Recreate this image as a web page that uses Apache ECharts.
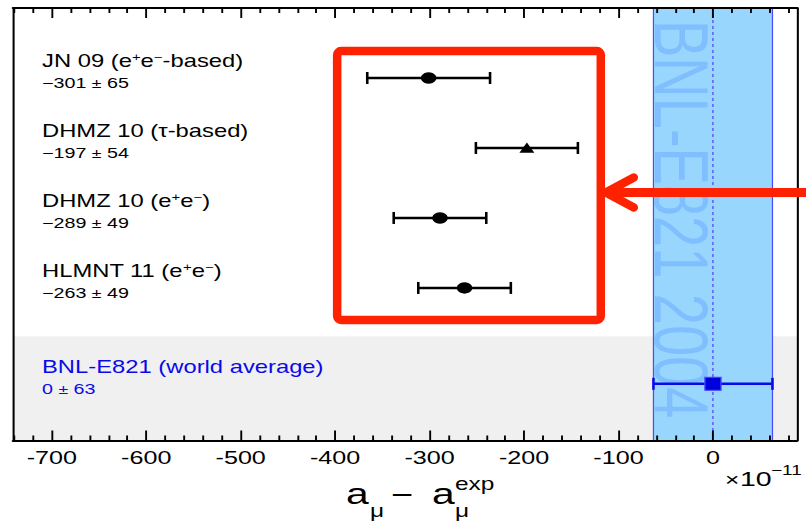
<!DOCTYPE html>
<html>
<head>
<meta charset="utf-8">
<script src="https://cdn.jsdelivr.net/npm/echarts@6/dist/echarts.min.js"></script>
<style>
  html, body { margin: 0; padding: 0; background: #fff; overflow: hidden; }
  #wrap { width: 806px; height: 521px; overflow: hidden; position: relative; }
  /* the figure is laid out narrower and widened, like the original wide-aspect plot */
  #chart { width: 593px; height: 521px; transform-origin: 0 0; transform: scaleX(1.359191); }
</style>
</head>
<body>
<div id="wrap"><div id="chart"></div></div>
<script>
// ---- data ------------------------------------------------------------
const measurementNames = [
  'JN 09 (e{sup|+}e{sup|−}-based)',
  'DHMZ 10 (τ-based)',
  'DHMZ 10 (e{sup|+}e{sup|−})',
  'HLMNT 11 (e{sup|+}e{sup|−})',
  'BNL-E821 (world average)'
];
const centralValues = [-301, -197, -289, -263, 0];
const uncertainties = [65, 54, 49, 49, 63];
const markerKinds = ['circle', 'triangle', 'circle', 'circle', 'square'];
const majorTicks = [-700, -600, -500, -400, -300, -200, -100, 0];
const minorTicks = [-740, -720, -680, -660, -640, -620, -580, -560, -540, -520,
  -480, -460, -440, -420, -380, -360, -340, -320, -280, -260, -240, -220,
  -180, -160, -140, -120, -80, -60, -40, -20, 20, 40, 60, 80];
const bandText = 'BNL-E821 2004';
const experimentValue = 0;
const experimentError = 63;

// ---- layout ----------------------------------------------------------
const STRETCH = 806 / 593;
const X_MIN = -741, X_MAX = 89;
const Y_MIN = 0, Y_MAX = 6.18;
const REF_ROW = 5.37;        // row of the experimental value
const REF_ZONE_TOP = 4.69;   // shaded zone holding the experimental value
const FONT = 'Liberation Sans, Arial, Helvetica, sans-serif';
const BLUE = '#0a0ae8';
const RED = '#ff2200';
// highlight box around the theory predictions, in axis units
const highlight = { x0: -398, x1: -119, y0: 0.614, y1: 4.457, arrowY: 2.636 };

function rowOf(i) { return i < 4 ? i + 1 : REF_ROW; }
function fmt(v) { return v < 0 ? '−' + Math.abs(v) : String(v); }

const seriesData = centralValues.map((v, i) => [v, uncertainties[i], rowOf(i)]);

function renderMeasurement(params, api) {
  const i = params.dataIndex;
  const v = api.value(0), e = api.value(1), row = api.value(2);
  const c = api.coord([v, row]);
  const lo = api.coord([v - e, row]);
  const hi = api.coord([v + e, row]);
  const isRef = i === centralValues.length - 1;
  const color = isRef ? BLUE : '#000';
  const cs = params.coordSys;
  const tx = cs.x + 21.3;
  const children = [
    { type: 'line', shape: { x1: lo[0], y1: c[1], x2: hi[0], y2: c[1] },
      style: { stroke: color, lineWidth: 2.4 } },
    { type: 'line', shape: { x1: lo[0], y1: c[1] - 6, x2: lo[0], y2: c[1] + 6 },
      style: { stroke: color, lineWidth: 1.9 } },
    { type: 'line', shape: { x1: hi[0], y1: c[1] - 6, x2: hi[0], y2: c[1] + 6 },
      style: { stroke: color, lineWidth: 1.9 } }
  ];
  const kind = markerKinds[i];
  if (kind === 'circle') {
    children.push({ type: 'circle', shape: { cx: c[0], cy: c[1], r: 5.7 }, style: { fill: color } });
  } else if (kind === 'triangle') {
    children.push({ type: 'polygon',
      shape: { points: [[c[0], c[1] - 5.5], [c[0] - 5.5, c[1] + 4.8], [c[0] + 5.5, c[1] + 4.8]] },
      style: { fill: color } });
  } else {
    children.push({ type: 'rect', shape: { x: c[0] - 5.9, y: c[1] - 6.5, width: 11.8, height: 13 },
      style: { fill: '#0000dd', stroke: '#4444ff', lineWidth: 1 } });
  }
  children.push({
    type: 'text', x: tx, y: c[1] - 17,
    style: {
      text: measurementNames[i], fill: color, fontSize: 17.5, fontFamily: FONT,
      align: 'left', verticalAlign: 'middle',
      rich: { sup: { fontSize: 11, fontFamily: FONT, fill: color, verticalAlign: 'top', lineHeight: 16 } }
    }
  });
  children.push({
    type: 'text', x: tx, y: c[1] + 5.3,
    style: {
      text: fmt(v) + ' {pm|±} ' + e, fill: color, fontSize: 14.5, fontFamily: FONT,
      align: 'left', verticalAlign: 'middle',
      rich: { pm: { fontSize: 13, fontFamily: FONT, fill: color } }
    }
  });
  return { type: 'group', children };
}

function renderBandText(params, api) {
  const left = api.coord([experimentValue - experimentError, Y_MIN]);
  return {
    type: 'text',
    x: left[0] + 20.6,
    y: left[1] + 12,
    rotation: -Math.PI / 2,
    style: {
      text: bandText, fill: '#80bfff', fontSize: 56, fontFamily: FONT,
      align: 'left', verticalAlign: 'middle'
    }
  };
}

function xAxisDef(position, ticks, len, withLine, withLabels) {
  return {
    type: 'value', position, min: X_MIN, max: X_MAX, z: 10,
    axisLine: { show: withLine, onZero: false, lineStyle: { color: '#000', width: 2 } },
    axisTick: { show: true, inside: true, length: len, customValues: ticks,
      lineStyle: { color: '#000', width: 1.4 } },
    axisLabel: withLabels
      ? { show: true, customValues: majorTicks, color: '#000', fontSize: 18.5, fontFamily: FONT,
          margin: 8, formatter: v => String(v) }
      : { show: false },
    splitLine: { show: false }
  };
}
function yAxisDef(position) {
  return {
    type: 'value', position, inverse: true, min: Y_MIN, max: Y_MAX, z: 10,
    axisLine: { show: true, onZero: false, lineStyle: { color: '#000', width: 1.5 } },
    axisTick: { show: false }, axisLabel: { show: false }, splitLine: { show: false }
  };
}

const chart = echarts.init(document.getElementById('chart'), null, { renderer: 'svg' });
chart.setOption({
  animation: false,
  backgroundColor: '#fff',
  grid: { left: 9.6, right: 6.6, top: 8, bottom: 80.5, containLabel: false },
  xAxis: [
    xAxisDef('bottom', majorTicks, 10, true, true),
    xAxisDef('bottom', minorTicks, 5, false, false),
    xAxisDef('top', majorTicks, 10, true, false),
    xAxisDef('top', minorTicks, 5, false, false)
  ],
  yAxis: [yAxisDef('left'), yAxisDef('right')],
  series: [
    {
      type: 'custom', name: 'band', z: 2, silent: true,
      data: [[experimentValue, REF_ROW]],
      renderItem: renderBandText,
      markArea: {
        silent: true, z: 1,
        data: [
          [{ xAxis: X_MIN, yAxis: REF_ZONE_TOP, itemStyle: { color: '#f0f0f0', borderWidth: 0 } },
           { xAxis: X_MAX, yAxis: Y_MAX }],
          [{ xAxis: experimentValue - experimentError, yAxis: Y_MIN,
             itemStyle: { color: '#99d6fd', borderColor: '#4a4aff', borderWidth: 0.9 } },
           { xAxis: experimentValue + experimentError, yAxis: Y_MAX }]
        ]
      },
      markLine: {
        silent: true, z: 2, symbol: 'none', label: { show: false },
        lineStyle: { color: '#6b6bff', width: 1.3, type: [3, 3] },
        data: [{ xAxis: experimentValue }]
      }
    },
    {
      type: 'custom', name: 'measurements', z: 3, silent: true,
      data: seriesData,
      encode: { x: 0, y: 2 },
      renderItem: renderMeasurement
    }
  ]
});

// highlight box, arrow and axis title (drawn in unstretched pixel space)
const p0 = chart.convertToPixel({ gridIndex: 0 }, [highlight.x0, highlight.y0]);
const p1 = chart.convertToPixel({ gridIndex: 0 }, [highlight.x1, highlight.y1]);
const pa = chart.convertToPixel({ gridIndex: 0 }, [highlight.x1, highlight.arrowY]);
const bx0 = p0[0] * STRETCH, bx1 = p1[0] * STRETCH;
const tipX = bx1 + 5, ay = pa[1];

function titleText(t, xRef, baseline, size) {
  return { type: 'text', x: xRef / STRETCH, y: baseline - 0.35 * size, z: 50,
    style: { text: t, fill: '#000', fontSize: size, fontFamily: FONT, align: 'left', verticalAlign: 'middle' } };
}

chart.setOption({
  graphic: [
    {
      type: 'group', x: 0, y: 0, scaleX: 1 / STRETCH, z: 100,
      children: [
        { type: 'rect', z: 100, shape: { x: bx0, y: p0[1], width: bx1 - bx0, height: p1[1] - p0[1], r: 4 },
          style: { fill: 'none', stroke: RED, lineWidth: 8.5 } },
        { type: 'line', z: 100, shape: { x1: tipX, y1: ay, x2: 830, y2: ay },
          style: { stroke: RED, lineWidth: 9 } },
        { type: 'polyline', z: 100, shape: { points: [[tipX + 28, ay - 15], [tipX, ay], [tipX + 28, ay + 15]] },
          style: { fill: 'none', stroke: RED, lineWidth: 8.5, lineCap: 'round', lineJoin: 'round' } }
      ]
    },
    titleText('a', 346, 504, 30),
    titleText('μ', 370, 517, 18),
    titleText('−', 391, 504, 28),
    titleText('a', 432, 504, 30),
    titleText('exp', 455, 490, 18),
    titleText('μ', 455, 517, 18),
    titleText('×', 725, 486, 18),
    titleText('10', 740, 486, 21),
    titleText('−11', 771, 475, 14)
  ]
});
</script>
</body>
</html>
